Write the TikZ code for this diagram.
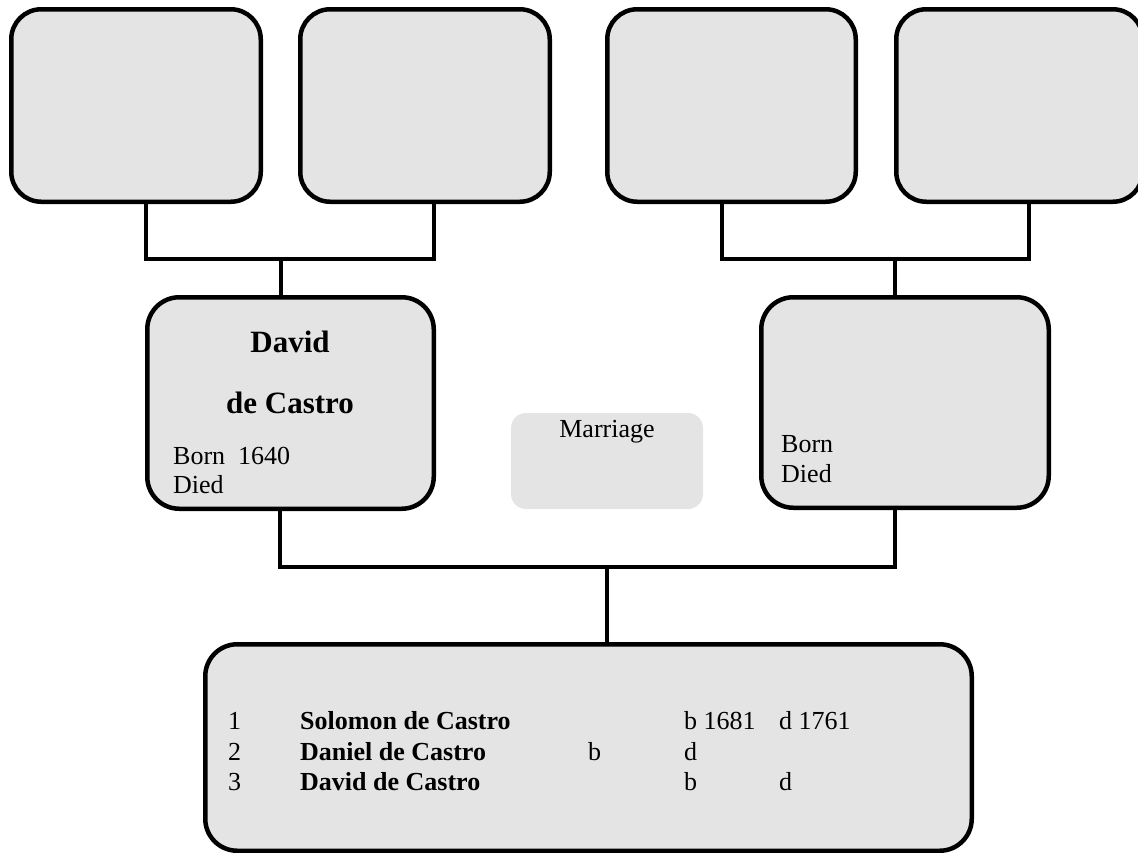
\documentclass[tikz,border=0pt]{standalone}
\usepackage{fontspec}
\setmainfont{Liberation Serif}
\definecolor{boxgrey}{HTML}{E4E4E4}
\begin{document}
\begin{tikzpicture}[x=1pt,y=-1pt,
  person/.style={rectangle, draw=black, line width=4.5pt, fill=boxgrey,
    rounded corners=30pt, inner sep=0pt},
  link/.style={draw=black, line width=4.5pt},
  txt/.style={inner sep=0pt, anchor=base west, font=\fontsize{26}{30}\selectfont},
  headline/.style={inner sep=0pt, anchor=base, font=\fontsize{31}{36}\selectfont\bfseries},
  kidname/.style={inner sep=0pt, anchor=base west, font=\fontsize{26}{30}\selectfont\bfseries}]
\useasboundingbox (0,0) rectangle (1138,852);
\clip (0,0) rectangle (1138,852);

% grandparents
\node[person, minimum width=249.5pt, minimum height=192.5pt] (gp1) at (136,105.5) {};
\node[person, minimum width=249.5pt, minimum height=192.5pt] (gp2) at (425,105.5) {};
\node[person, minimum width=248.5pt, minimum height=192.5pt] (gp3) at (731.5,105.5) {};
\node[person, minimum width=246.5pt, minimum height=192.5pt] (gp4) at (1019.5,105.5) {};

% parents
\node[person, minimum width=286.5pt, minimum height=211.5pt, rounded corners=32pt] (father) at (290.5,403) {};
\node[person, minimum width=287.5pt, minimum height=210.5pt, rounded corners=32pt] (mother) at (905,402.5) {};
\node[rectangle, fill=boxgrey, rounded corners=15pt, minimum width=192pt, minimum height=96pt, inner sep=0pt] (marriage) at (607,461) {};

% children
\node[person, minimum width=766.5pt, minimum height=206.5pt, rounded corners=32pt] (children) at (588.5,747.5) {};

% connectors
\coordinate (j1) at (281,259);
\coordinate (j2) at (895,259);
\coordinate (j3) at (607,567);
\draw[link] ([xshift=10pt]gp1.south) |- (j1) -| ([xshift=9pt]gp2.south);
\draw[link] (j1) -- (j1 |- father.north);
\draw[link] ([xshift=-9.5pt]gp3.south) |- (j2) -| ([xshift=9.5pt]gp4.south);
\draw[link] (j2) -- (j2 |- mother.north);
\draw[link] ([xshift=-10.5pt]father.south) |- (j3) -| ([xshift=-10pt]mother.south);
\draw[link] (j3) -- (j3 |- children.north);

% texts
\node[headline] (fn1) at (290,352) {David};
\node[headline] (fn2) at (290,413) {de Castro};
\node[txt] (fb) at (173,464) {Born\ \ 1640};
\node[txt] (fd) at (173,493) {Died};
\node[txt] (mb) at (781,452) {Born};
\node[txt] (md) at (781,482) {Died};
\node[txt, anchor=base] (ml) at (607,437) {Marriage};

\node[txt] (n1) at (228,729) {1};
\node[kidname] (c1) at (300,729) {Solomon de Castro};
\node[txt] (b1) at (684,729) {b 1681};
\node[txt] (d1) at (779,729) {d 1761};
\node[txt] (n2) at (228,760) {2};
\node[kidname] (c2) at (300,760) {Daniel de Castro};
\node[txt] (b2) at (588,760) {b};
\node[txt] (d2) at (684,760) {d};
\node[txt] (n3) at (228,790) {3};
\node[kidname] (c3) at (300,790) {David de Castro};
\node[txt] (b3) at (684,790) {b};
\node[txt] (d3) at (779,790) {d};
\end{tikzpicture}
\end{document}
